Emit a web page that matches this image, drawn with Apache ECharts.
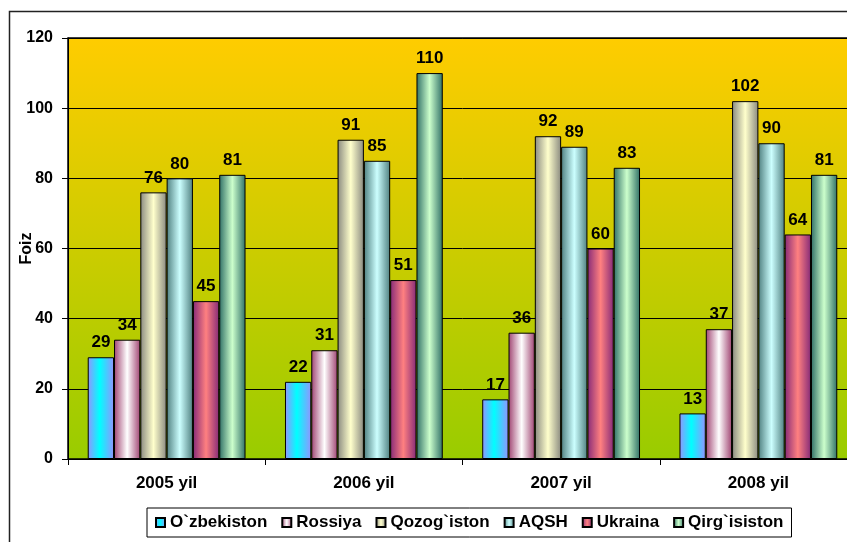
<!DOCTYPE html>
<html>
<head>
<meta charset="utf-8">
<script src="https://cdn.jsdelivr.net/npm/echarts@6/dist/echarts.min.js"></script>
<style>
html,body{margin:0;padding:0;background:#fff;overflow:hidden;width:847px;height:542px;}
#chart{width:880px;height:542px;}
</style>
</head>
<body>
<div id="chart"></div>
<script>
const categories = ['2005 yil', '2006 yil', '2007 yil', '2008 yil'];
const uzbekiston = [29, 22, 17, 13];
const rossiya = [34, 31, 36, 37];
const qozogiston = [76, 91, 92, 102];
const aqsh = [80, 85, 89, 90];
const ukraina = [45, 51, 60, 64];
const qirgiziston = [81, 110, 83, 81];
const seriesNames = ['O`zbekiston', 'Rossiya', 'Qozog`iston', 'AQSH', 'Ukraina', 'Qirg`isiston'];
const yMin = 0, yMax = 120, yStep = 20;

const FONT = '"Liberation Sans", Arial, sans-serif';

function grad(edge, center, pos) {
  return {
    type: 'linear', x: 0, y: 0, x2: 1, y2: 0,
    colorStops: [
      { offset: 0, color: edge },
      { offset: pos, color: center },
      { offset: 1, color: edge }
    ]
  };
}
const fills = [
  grad('#9393FF', '#00FFFF', 0.45),
  grad('#A04472', '#FFFFFF', 0.5),
  grad('#8A8A80', '#FFFFCC', 0.5),
  grad('#4F8080', '#CCFFFF', 0.5),
  grad('#862A78', '#FF8080', 0.5),
  grad('#2F6F66', '#CCFFCC', 0.5)
];
const dataSets = [uzbekiston, rossiya, qozogiston, aqsh, ukraina, qirgiziston];

const chart = echarts.init(document.getElementById('chart'), null, { renderer: 'canvas' });
chart.setOption({
  animation: false,
  textStyle: { fontFamily: FONT },
  graphic: [{
    type: 'rect',
    shape: { x: 9.5, y: 11.5, width: 1000, height: 1000 },
    style: { fill: 'none', stroke: '#222', lineWidth: 1.5 },
    z: 0
  }],
  grid: {
    left: 68, right: 23, top: 38, bottom: 83,
    outerBoundsMode: 'none',
    containLabel: false,
    show: true,
    borderColor: '#000', borderWidth: 1.5,
    backgroundColor: {
      type: 'linear', x: 0, y: 0, x2: 0, y2: 1,
      colorStops: [{ offset: 0, color: '#FFCC00' }, { offset: 1, color: '#99CC00' }]
    }
  },
  legend: {
    left: 147, top: 508,
    padding: [6, 8, 6, 8],
    itemWidth: 9, itemHeight: 9, itemGap: 14,
    borderColor: '#000', borderWidth: 1, backgroundColor: '#fff',
    icon: 'rect',
    textStyle: { fontFamily: FONT, fontWeight: 'bold', fontSize: 17, color: '#000' },
    data: seriesNames
  },
  xAxis: {
    type: 'category',
    data: categories,
    axisLine: { lineStyle: { color: '#000', width: 1 } },
    axisTick: { show: true, length: 6, inside: false, lineStyle: { color: '#000' } },
    axisLabel: { fontFamily: FONT, fontWeight: 'bold', fontSize: 17, color: '#000', margin: 16 }
  },
  yAxis: {
    type: 'value', min: yMin, max: yMax, interval: yStep,
    name: 'Foiz', nameLocation: 'middle', nameGap: 33, nameRotate: 90,
    nameMoveOverlap: false,
    nameTextStyle: { fontFamily: FONT, fontWeight: 'bold', fontSize: 16, color: '#000' },
    axisLine: { show: true, lineStyle: { color: '#000', width: 1 } },
    axisTick: { show: true, length: 6, lineStyle: { color: '#000' } },
    axisLabel: { fontFamily: FONT, fontWeight: 'bold', fontSize: 16, color: '#000', margin: 15 },
    splitLine: { show: true, lineStyle: { color: '#000', width: 1 } }
  },
  series: seriesNames.map((name, i) => ({
    name: name,
    type: 'bar',
    data: dataSets[i],
    barGap: '0%',
    barCategoryGap: '20%',
    itemStyle: { color: fills[i], borderColor: '#000', borderWidth: 1 },
    label: {
      show: true, position: 'top', distance: 6,
      fontFamily: FONT, fontWeight: 'bold', fontSize: 17, color: '#000'
    }
  }))
});
</script>
</body>
</html>
